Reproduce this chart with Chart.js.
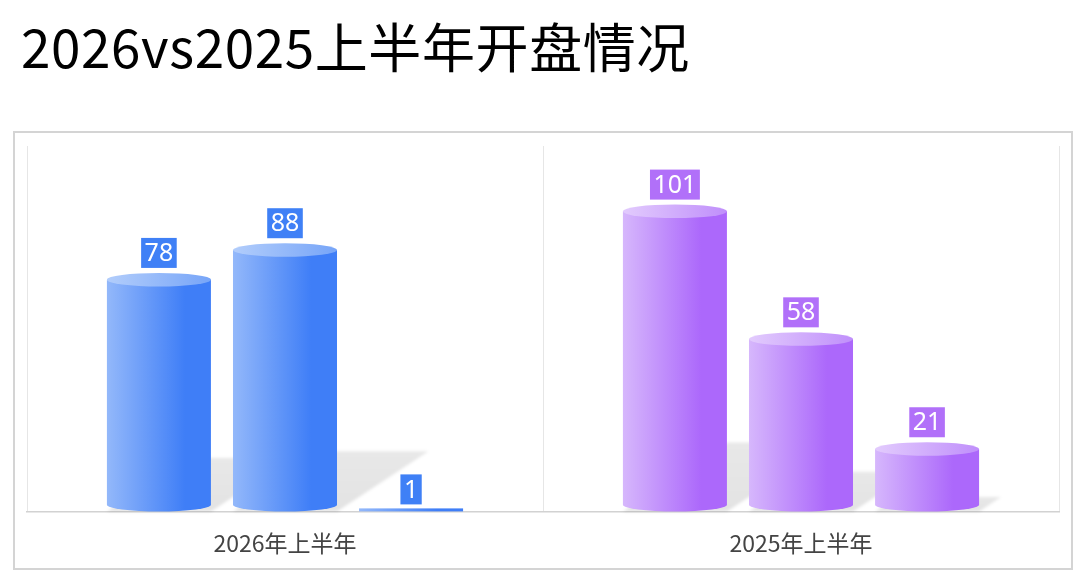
<!DOCTYPE html>
<html>
<head>
<meta charset="utf-8">
<script src="https://cdn.jsdelivr.net/npm/chart.js@4.4.1/dist/chart.umd.min.js"></script>
<style>
body { margin: 0; background: #fff; width: 1080px; height: 587px; overflow: hidden; font-family: "Noto Sans CJK SC", sans-serif; }
#title { position: absolute; left: 21px; top: 12px; font-size: 53px; line-height: 66px; color: #000; white-space: nowrap; letter-spacing: 0.6px; }
#box { position: absolute; left: 13px; top: 131px; width: 1056px; height: 435px; border: 2px solid #d4d4d4; }
</style>
</head>
<body>
<div id="title">2026vs2025上半年开盘情况</div>
<div id="box"><canvas id="openChart"></canvas></div>
<script>
// values
var categories = ['2026年上半年', '2025年上半年'];
var series_1 = [78, 101];
var series_2 = [88, 58];
var series_3 = [1, 21];

// one colour set per category (blue for 2026, purple for 2025)
var palette = [
    { light: '#93b8fa', main: '#3f7ef7', topLight: '#b2cdfb', topMain: '#77a5f8', label: '#3f80f6' },
    { light: '#d6b7fc', main: '#ac68fb', topLight: '#e2cbfd', topMain: '#c08ffb', label: '#b170f9' }
];

function each_bar(chart, fn) {
    chart.data.datasets.forEach(function(ds, i) {
        var meta = chart.getDatasetMeta(i);
        meta.data.forEach(function(bar, j) {
            fn(bar, ds.data[j], j);
        });
    });
}

var cylinder_plugin = {
    id: 'cylinders',
    beforeDatasetsDraw: function(chart) {
        var ctx = chart.ctx;
        each_bar(chart, function(bar, value) {
            var h = bar.base - bar.y;
            if (h < 6) return;
            var left = bar.x - bar.width / 2;
            var right = bar.x + bar.width / 2;
            var dx = h * 0.35, dy = h * 0.23;
            ctx.save();
            ctx.filter = 'blur(1.5px)';
            var g = ctx.createLinearGradient(0, bar.base, 0, bar.base - dy);
            g.addColorStop(0, 'rgba(0,0,0,0.11)');
            g.addColorStop(1, 'rgba(0,0,0,0.09)');
            ctx.fillStyle = g;
            ctx.beginPath();
            ctx.moveTo(left, bar.base);
            ctx.lineTo(right, bar.base);
            ctx.lineTo(right + dx, bar.base - dy);
            ctx.lineTo(left + dx, bar.base - dy);
            ctx.closePath();
            ctx.fill();
            ctx.restore();
        });
    },
    afterDatasetsDraw: function(chart) {
        var ctx = chart.ctx;
        each_bar(chart, function(bar, value, j) {
            var c = palette[j];
            var w = bar.width;
            var left = bar.x - w / 2;
            var right = bar.x + w / 2;
            var ry = w * 0.065;
            var h = bar.base - bar.y;
            var body = ctx.createLinearGradient(left, 0, right, 0);
            body.addColorStop(0, c.light);
            body.addColorStop(0.75, c.main);
            body.addColorStop(1, c.main);
            ctx.save();
            if (h < 2 * ry) {
                ctx.fillStyle = body;
                ctx.fillRect(left, bar.base - 3, w, 3);
            } else {
                ctx.fillStyle = body;
                ctx.beginPath();
                ctx.moveTo(left, bar.y);
                ctx.lineTo(left, bar.base - ry);
                ctx.ellipse(bar.x, bar.base - ry, w / 2, ry, 0, Math.PI, 0, true);
                ctx.lineTo(right, bar.y);
                ctx.closePath();
                ctx.fill();
                var top = ctx.createLinearGradient(left, 0, right, 0);
                top.addColorStop(0, c.topLight);
                top.addColorStop(1, c.topMain);
                ctx.fillStyle = top;
                ctx.beginPath();
                ctx.ellipse(bar.x, bar.y, w / 2, ry, 0, 0, Math.PI * 2);
                ctx.fill();
            }
            ctx.restore();
        });
        // value boxes
        each_bar(chart, function(bar, value, j) {
            var c = palette[j];
            var h = bar.base - bar.y;
            var ry = bar.width * 0.065;
            var bottom = h < 2 * ry ? bar.base - 7 : bar.y - ry - 5;
            ctx.save();
            ctx.font = '25px "Noto Sans", sans-serif';
            var text = String(value);
            var tw = ctx.measureText(text).width;
            var bw = tw + 7, bh = 30;
            ctx.fillStyle = c.label;
            ctx.fillRect(bar.x - bw / 2, bottom - bh, bw, bh);
            ctx.fillStyle = '#fff';
            ctx.textAlign = 'center';
            ctx.textBaseline = 'middle';
            ctx.fillText(text, bar.x, bottom - bh / 2 + 1);
            ctx.restore();
        });
    }
};

var clear = 'rgba(0,0,0,0)';
var chart_config = {
    type: 'bar',
    data: {
        labels: categories,
        datasets: [
            { label: 's1', data: series_1, backgroundColor: clear },
            { label: 's2', data: series_2, backgroundColor: clear },
            { label: 's3', data: series_3, backgroundColor: clear }
        ]
    },
    options: {
        responsive: true,
        maintainAspectRatio: false,
        animation: false,
        devicePixelRatio: 1,
        categoryPercentage: 0.733,
        barPercentage: 0.825,
        layout: { padding: { left: 12, right: 12, top: 13, bottom: -7 } },
        plugins: {
            legend: { display: false },
            tooltip: { enabled: false }
        },
        scales: {
            x: {
                grid: { display: true, offset: true, drawTicks: false, color: '#e6e6e6', lineWidth: 1 },
                border: { display: true, color: '#d2d2d2', width: 1.5 },
                ticks: {
                    padding: 18,
                    color: '#444',
                    font: { family: '"Noto Sans CJK SC", sans-serif', size: 23 }
                }
            },
            y: {
                display: false,
                min: 0,
                max: 123
            }
        }
    },
    plugins: [cylinder_plugin]
};

var myContext = document.getElementById('openChart');
var myChart = new Chart(myContext, chart_config);
</script>
</body>
</html>
